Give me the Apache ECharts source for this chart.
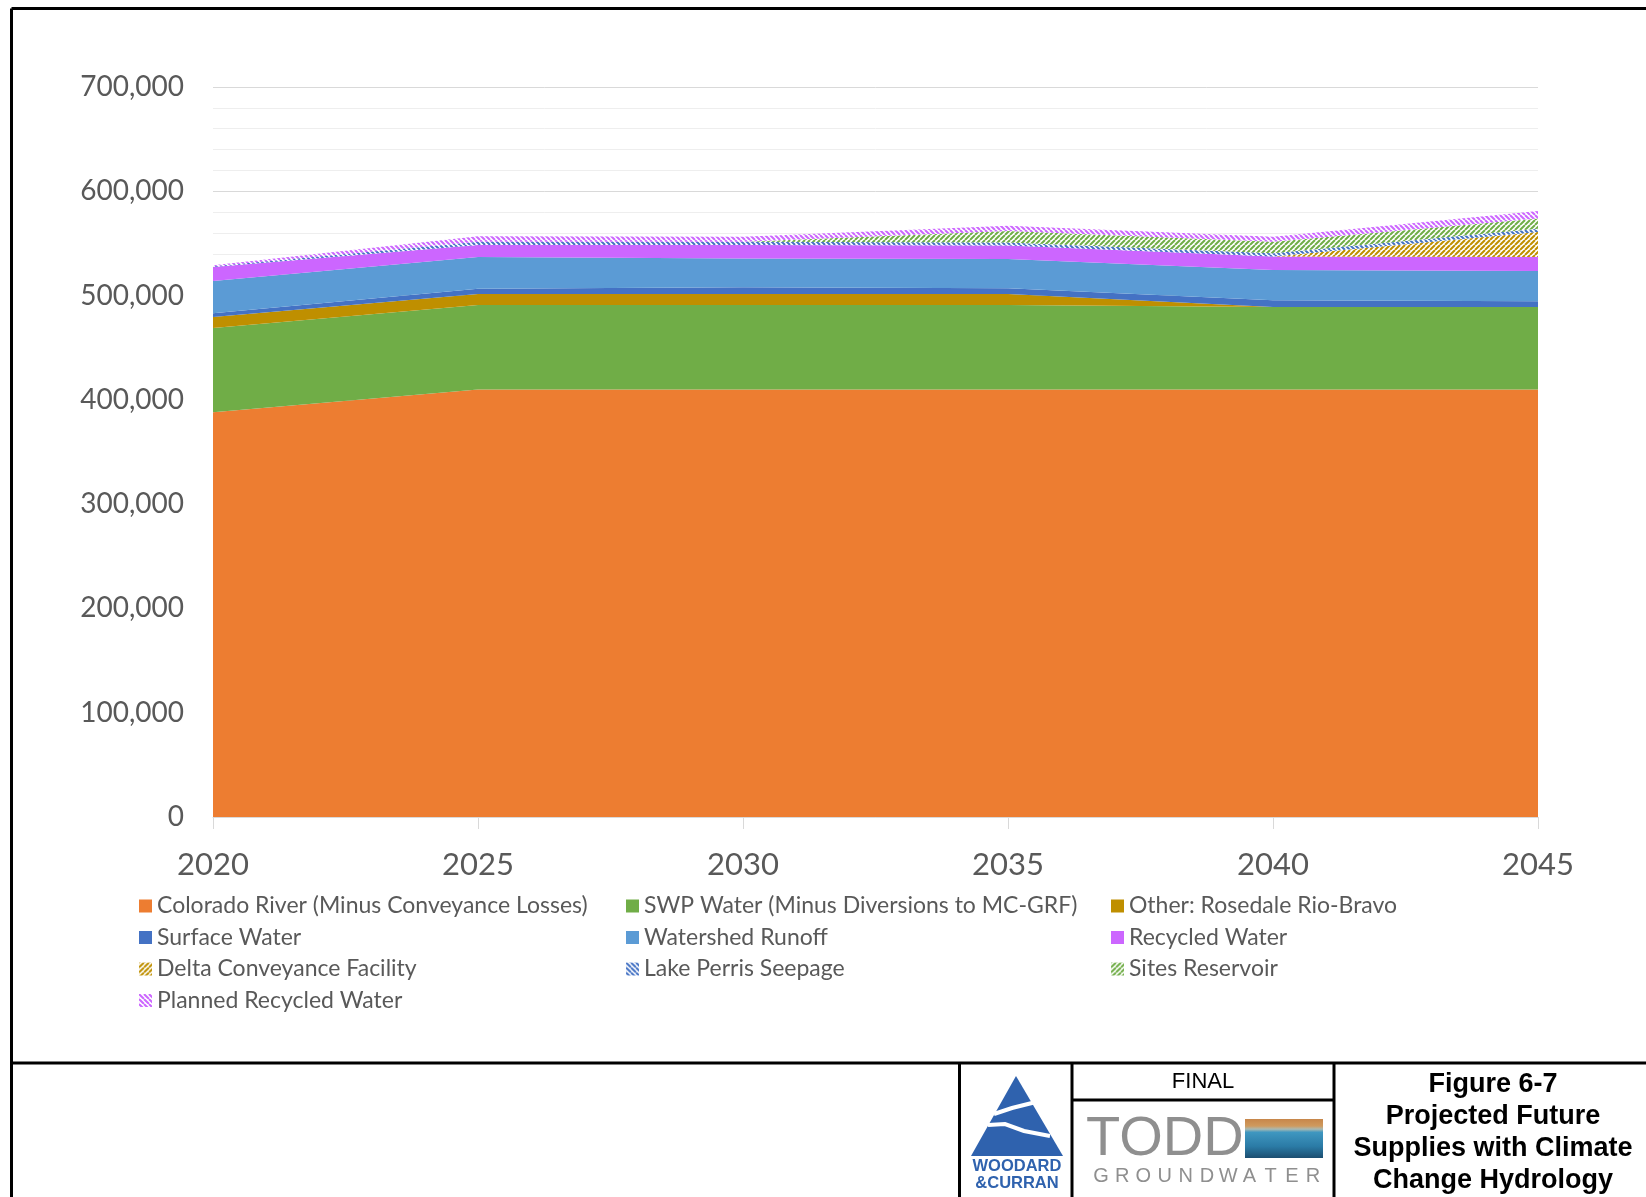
<!DOCTYPE html>
<html>
<head>
<meta charset="utf-8">
<script src="https://cdn.jsdelivr.net/npm/echarts@6/dist/echarts.min.js"></script>
<style>
  html, body { margin: 0; padding: 0; background: #ffffff; }
  #chart { width: 1646px; height: 1197px; }
</style>
</head>
<body>
<div id="chart"></div>
<script>
// Projected supplies by source (acre-feet per year)
const years = ['2020', '2025', '2030', '2035', '2040', '2045'];
const coloradoRiver     = [388000, 410000, 410000, 410000, 410000, 410000];
const swpWater          = [81000, 81000, 81000, 81000, 79000, 79000];
const rosedaleRioBravo  = [10500, 10500, 10500, 10500, 0, 0];
const surfaceWater      = [3500, 5000, 6500, 5500, 6500, 5500];
const watershedRunoff   = [31000, 30500, 27500, 28000, 29000, 29000];
const recycledWater     = [13500, 11500, 13000, 13000, 13000, 13500];
const deltaConveyance   = [0, 0, 0, 0, 0, 24000];
const lakePerrisSeepage = [500, 3000, 3000, 3000, 3000, 3000];
const sitesReservoir    = [0, 0, 0, 11000, 11000, 10000];
const plannedRecycled   = [1000, 5500, 5000, 5000, 5000, 7000];

const yMax = 700000;
const yInterval = 100000;

// Diagonal hatch fill for planned / future supplies
function hatch(color, dir) {
  const s = 5;
  const c = document.createElement('canvas');
  c.width = s; c.height = s;
  const ctx = c.getContext('2d');
  ctx.fillStyle = '#ffffff';
  ctx.fillRect(0, 0, s, s);
  ctx.strokeStyle = color;
  ctx.lineWidth = 2;
  ctx.beginPath();
  for (let k = -s; k <= s; k += s) {
    if (dir === 'up') { ctx.moveTo(k, s); ctx.lineTo(k + s, 0); }
    else { ctx.moveTo(k, 0); ctx.lineTo(k + s, s); }
  }
  ctx.stroke();
  return { image: c, repeat: 'repeat' };
}

const seriesDefs = [
  { name: 'Colorado River (Minus Conveyance Losses)', data: coloradoRiver, fill: '#ED7D31' },
  { name: 'SWP Water (Minus Diversions to MC-GRF)', data: swpWater, fill: '#70AD47' },
  { name: 'Other: Rosedale Rio-Bravo', data: rosedaleRioBravo, fill: '#BF8F00' },
  { name: 'Surface Water', data: surfaceWater, fill: '#4472C4' },
  { name: 'Watershed Runoff', data: watershedRunoff, fill: '#5B9BD5' },
  { name: 'Recycled Water', data: recycledWater, fill: '#CC66FF' },
  { name: 'Delta Conveyance Facility', data: deltaConveyance, fill: hatch('#BF8F00', 'up') },
  { name: 'Lake Perris Seepage', data: lakePerrisSeepage, fill: hatch('#4472C4', 'down') },
  { name: 'Sites Reservoir', data: sitesReservoir, fill: hatch('#70AD47', 'up') },
  { name: 'Planned Recycled Water', data: plannedRecycled, fill: hatch('#CC66FF', 'down') }
];

const series = seriesDefs.map(d => ({
  name: d.name,
  type: 'line',
  stack: 'supply',
  data: d.data,
  showSymbol: false,
  symbol: 'none',
  lineStyle: { width: 0 },
  itemStyle: { color: d.fill },
  areaStyle: { color: d.fill, opacity: 1 },
  emphasis: { disabled: true }
}));

const legendText = { color: '#595959', fontSize: 23, fontFamily: 'Lato, "Open Sans", sans-serif', lineHeight: 24 };
function legendCol(left, names) {
  return {
    orient: 'vertical', left: left, top: 889, icon: 'rect',
    itemWidth: 13, itemHeight: 13, itemGap: 7.5,
    textStyle: legendText, selectedMode: false,
    data: names
  };
}

// Title block frame, logos and figure caption
const blk = '#000000';
const frame = [
  { type: 'line', shape: { x1: 11.5, y1: 8.5, x2: 1646, y2: 8.5 }, style: { stroke: blk, lineWidth: 3 } },
  { type: 'line', shape: { x1: 11.5, y1: 8.5, x2: 11.5, y2: 1197 }, style: { stroke: blk, lineWidth: 3 } },
  { type: 'line', shape: { x1: 11.5, y1: 1063, x2: 1646, y2: 1063 }, style: { stroke: blk, lineWidth: 3 } },
  { type: 'line', shape: { x1: 959.5, y1: 1063, x2: 959.5, y2: 1197 }, style: { stroke: blk, lineWidth: 3 } },
  { type: 'line', shape: { x1: 1072, y1: 1063, x2: 1072, y2: 1197 }, style: { stroke: blk, lineWidth: 3 } },
  { type: 'line', shape: { x1: 1334, y1: 1063, x2: 1334, y2: 1197 }, style: { stroke: blk, lineWidth: 3 } },
  { type: 'line', shape: { x1: 1072, y1: 1100, x2: 1334, y2: 1100 }, style: { stroke: blk, lineWidth: 3 } }
];

const woodard = [
  { type: 'polygon', shape: { points: [[1016, 1076], [971, 1156], [1063, 1156]] }, style: { fill: '#2F62AE' } },
  { type: 'polyline', shape: { points: [[994, 1114], [1012, 1108], [1040, 1101]] }, style: { stroke: '#ffffff', lineWidth: 4, fill: null } },
  { type: 'polyline', shape: { points: [[988, 1125], [1005, 1124], [1024, 1131], [1050, 1136]] }, style: { stroke: '#ffffff', lineWidth: 4, fill: null } },
  { type: 'polygon', shape: { points: [[971, 1157], [1064, 1157], [1064, 1161], [971, 1161]] }, style: { fill: '#ffffff' } },
  { type: 'text', style: { text: 'WOODARD', x: 1017, y: 1166, textAlign: 'center', textVerticalAlign: 'middle', fill: '#2F62AE', font: 'bold 16.5px "Liberation Sans", Arial, sans-serif' } },
  { type: 'text', style: { text: '&CURRAN', x: 1017, y: 1183, textAlign: 'center', textVerticalAlign: 'middle', fill: '#2F62AE', font: 'bold 16.5px "Liberation Sans", Arial, sans-serif' } }
];

const todd = [
  { type: 'text', style: { text: 'FINAL', x: 1203, y: 1082, textAlign: 'center', textVerticalAlign: 'middle', fill: '#000000', font: '22px "Liberation Sans", Arial, sans-serif' } },
  { type: 'text', style: { text: 'TODD', x: 1086, y: 1140, textAlign: 'left', textVerticalAlign: 'middle', fill: '#8f8f8f', font: '56px "Liberation Sans", Arial, sans-serif' } },
  { type: 'rect', shape: { x: 1245, y: 1119, width: 78, height: 39 },
    style: { fill: new echarts.graphic.LinearGradient(0, 0, 0, 1, [
      { offset: 0, color: '#c7864a' }, { offset: 0.18, color: '#cf9a5e' },
      { offset: 0.26, color: '#a9b9b2' }, { offset: 0.34, color: '#3f97c0' },
      { offset: 0.7, color: '#2b7ba6' }, { offset: 1, color: '#1c4e70' }]) } }
];
'GROUNDWATER'.split('').forEach((ch, i) => {
  todd.push({ type: 'text', style: { text: ch, x: 1101 + i * 21.2, y: 1176, textAlign: 'center', textVerticalAlign: 'middle', fill: '#8f8f8f', font: '20px "Liberation Sans", Arial, sans-serif' } });
});

const captionLines = ['Figure 6-7', 'Projected Future', 'Supplies with Climate', 'Change Hydrology'];
const caption = captionLines.map((t, i) => ({
  type: 'text',
  style: { text: t, x: 1493, y: 1085 + i * 31.7, textAlign: 'center', textVerticalAlign: 'middle', fill: '#000000', font: 'bold 27px "Liberation Sans", Arial, sans-serif' }
}));

const chart = echarts.init(document.getElementById('chart'), null, { renderer: 'canvas' });
chart.setOption({
  backgroundColor: '#ffffff',
  animation: false,
  grid: { left: 213, right: 108, top: 87, bottom: 380, containLabel: false },
  xAxis: {
    type: 'category',
    data: years,
    boundaryGap: false,
    axisLine: { show: true, lineStyle: { color: '#D9D9D9', width: 1 } },
    axisTick: { show: true, length: 12, lineStyle: { color: '#D9D9D9' } },
    axisLabel: { color: '#595959', fontSize: 31, fontFamily: 'Lato, "Open Sans", sans-serif', margin: 32 },
    splitLine: { show: false }
  },
  yAxis: {
    type: 'value',
    min: 0,
    max: yMax,
    interval: yInterval,
    axisLine: { show: false },
    axisTick: { show: false },
    axisLabel: {
      color: '#595959', fontSize: 28, fontFamily: 'Lato, "Open Sans", sans-serif', margin: 29,
      padding: [6, 0, 0, 0],
      formatter: v => v.toLocaleString('en-US')
    },
    splitLine: { show: true, lineStyle: { color: '#D9D9D9', width: 1 } },
    minorTick: { show: false, splitNumber: 5 },
    minorSplitLine: { show: true, lineStyle: { color: '#EEEEEE', width: 1 } }
  },
  legend: [
    legendCol(134, ['Colorado River (Minus Conveyance Losses)', 'Surface Water', 'Delta Conveyance Facility', 'Planned Recycled Water']),
    legendCol(621, ['SWP Water (Minus Diversions to MC-GRF)', 'Watershed Runoff', 'Lake Perris Seepage']),
    legendCol(1106, ['Other: Rosedale Rio-Bravo', 'Recycled Water', 'Sites Reservoir'])
  ],
  series: series,
  graphic: { elements: [].concat(frame, woodard, todd, caption) }
});
</script>
</body>
</html>
